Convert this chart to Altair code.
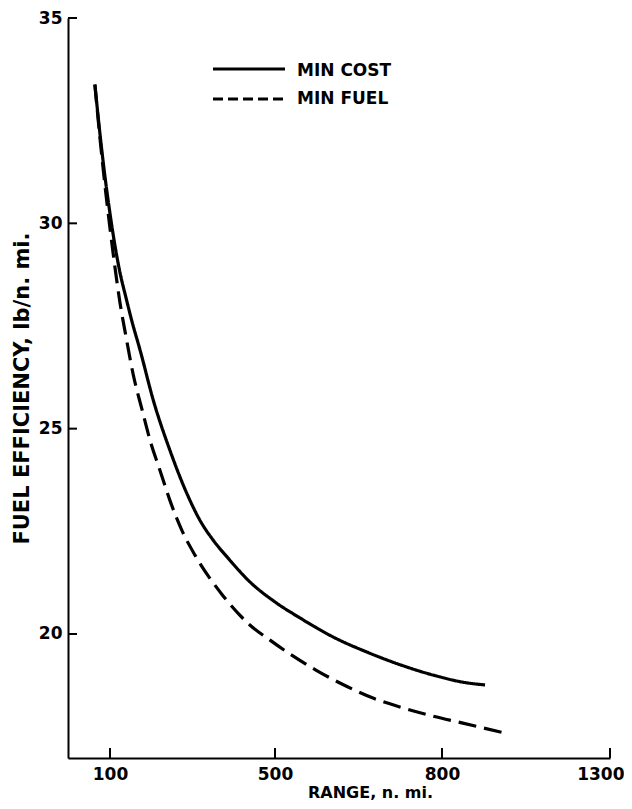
import altair as alt
import pandas as pd

# ---- data ----
series_names = ["MIN COST", "MIN FUEL"]
cost_range = [64, 76, 88, 100, 112, 124, 139, 153, 173, 205, 245, 286, 318, 352, 386, 439, 500, 545, 604, 665, 725, 784, 874, 928]
cost_eff = [33.38, 32.19, 31.14, 30.24, 29.46, 28.81, 28.18, 27.62, 26.91, 25.69, 24.48, 23.43, 22.77, 22.26, 21.85, 21.27, 20.78, 20.39, 19.93, 19.56, 19.25, 19.00, 18.81, 18.76]
fuel_range = [64, 76, 88, 100, 112, 124, 139, 156, 178, 197, 221, 245, 274, 306, 371, 439, 488, 527, 575, 622, 676, 730, 784, 862, 981]
fuel_eff = [33.38, 32.09, 30.92, 29.88, 28.93, 28.08, 27.23, 26.33, 25.45, 24.72, 23.99, 23.26, 22.53, 21.92, 20.97, 20.22, 19.85, 19.51, 19.11, 18.77, 18.44, 18.20, 18.00, 17.83, 17.60]
x_ticks = [100, 500, 800, 1300]
y_ticks = [20, 25, 30, 35]

FONT = "DejaVu Sans"
W, H = 542, 740

df = pd.concat([
    pd.DataFrame({"range": cost_range, "eff": cost_eff, "series": series_names[0]}),
    pd.DataFrame({"range": fuel_range, "eff": fuel_eff, "series": series_names[1]}),
])

xscale = alt.Scale(domain=[0, 100, 500, 800, 1300], range=[0, 42, 207, 374, 542], nice=False, zero=False)
yscale = alt.Scale(domain=[16.98, 35], nice=False, zero=False)

x_axis = alt.Axis(values=x_ticks, format="d", title="RANGE, n. mi.", grid=False, ticks=False,
                  domainColor="black", domainWidth=2, labelPadding=8,
                  labelFlush=10, labelFlushOffset=14,
                  labelFont=FONT, labelFontSize=17, labelFontWeight="bold", labelColor="black",
                  titleFont=FONT, titleFontSize=16, titleFontWeight="bold", titleColor="black",
                  titleX=302, titleY=39, titleAlign="center", titleBaseline="alphabetic")
y_axis = alt.Axis(values=y_ticks, title="FUEL EFFICIENCY, lb/n. mi.", grid=False, ticks=False,
                  domainColor="black", domainWidth=2, labelPadding=6, labelFlush=False,
                  labelFont=FONT, labelFontSize=17, labelFontWeight="bold", labelColor="black",
                  titleFont=FONT, titleFontSize=21, titleFontWeight="bold", titleColor="black",
                  titleX=-46, titleY=370, titleAngle=270, titleAlign="center", titleBaseline="middle")

lines = alt.Chart(df).mark_line(color="black", strokeWidth=3.2, interpolate="monotone").encode(
    x=alt.X("range:Q", scale=xscale, axis=x_axis),
    y=alt.Y("eff:Q", scale=yscale, axis=y_axis),
    strokeDash=alt.StrokeDash("series:N", scale=alt.Scale(domain=series_names, range=[[1, 0], [18, 8]]), legend=None),
    detail="series:N",
)

ytick_df = pd.DataFrame({"eff": y_ticks})
yticks = alt.Chart(ytick_df).mark_rule(color="black", strokeWidth=2).encode(
    y=alt.Y("eff:Q", scale=yscale, axis=y_axis), x=alt.value(0), x2=alt.value(9)
)
xtick_df = pd.DataFrame({"range": x_ticks})
xticks = alt.Chart(xtick_df).mark_rule(color="black", strokeWidth=2).encode(
    x=alt.X("range:Q", scale=xscale, axis=x_axis), y=alt.value(H - 10), y2=alt.value(H)
)

one = alt.Data(values=[{"k": 1}])
leg_solid = alt.Chart(one).mark_rule(color="black", strokeWidth=3.2).encode(
    x=alt.value(145), x2=alt.value(217), y=alt.value(51)
)
leg_dash = alt.Chart(one).mark_rule(color="black", strokeWidth=3.2, strokeDash=[10, 5]).encode(
    x=alt.value(145), x2=alt.value(217), y=alt.value(81)
)
leg_t1 = alt.Chart(one).mark_text(text=series_names[0], font=FONT, fontSize=17, fontWeight="bold",
                                   align="left", baseline="middle", color="black").encode(
    x=alt.value(229), y=alt.value(53)
)
leg_t2 = alt.Chart(one).mark_text(text=series_names[1], font=FONT, fontSize=17, fontWeight="bold",
                                   align="left", baseline="middle", color="black").encode(
    x=alt.value(229), y=alt.value(81)
)

chart = alt.layer(lines, yticks, xticks, leg_solid, leg_dash, leg_t1, leg_t2).properties(
    width=W, height=H,
    autosize=alt.AutoSizeParams(type="none"),
    padding={"left": 60, "top": 10, "right": 14, "bottom": 43},
).configure(background="white", view=alt.ViewConfig(stroke=None))

chart.save("out.html", embed_options={"renderer": "svg", "actions": False})
